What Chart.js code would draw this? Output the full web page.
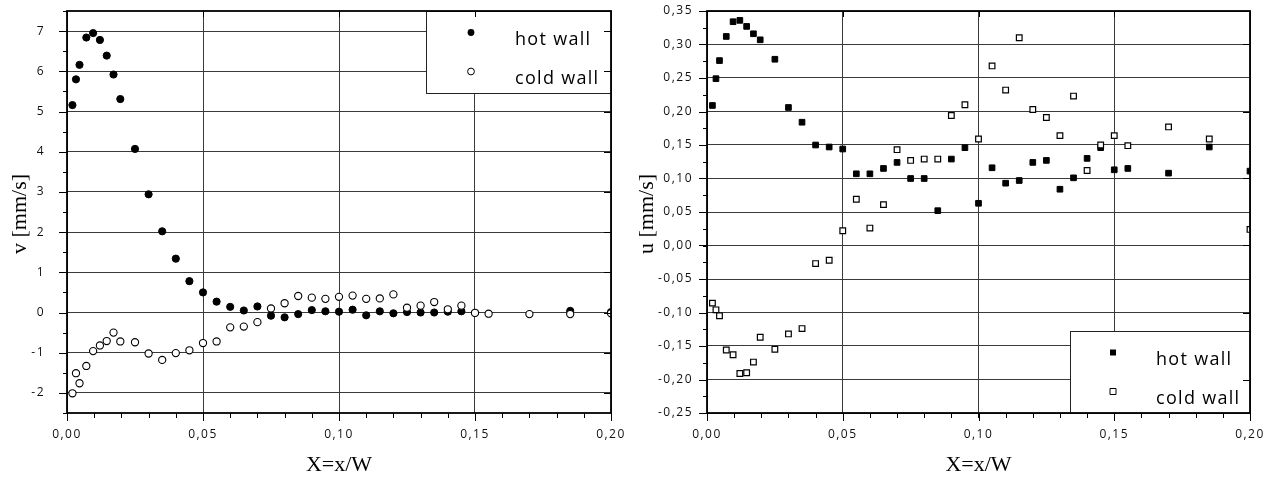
<!DOCTYPE html>
<html>
<head>
<meta charset="utf-8">
<script src="https://cdn.jsdelivr.net/npm/chart.js@4"></script>
<style>
body { margin: 0; background: #fff; width: 1273px; height: 482px; overflow: hidden; position: relative; }
.caixa { position: absolute; top: 0; height: 482px; }
</style>
</head>
<body>
<div class="caixa" style="left:0;width:630px"><canvas id="graficoV" width="630" height="482"></canvas></div>
<div class="caixa" style="left:630px;width:643px"><canvas id="graficoU" width="643" height="482"></canvas></div>
<script>
// posicoes X = x/W
var xPos = [0.002, 0.0033, 0.0046, 0.0071, 0.0096, 0.0121, 0.0146, 0.0171, 0.0196, 0.025,
            0.03, 0.035, 0.04, 0.045, 0.05, 0.055, 0.06, 0.065, 0.07, 0.075,
            0.08, 0.085, 0.09, 0.095, 0.1, 0.105, 0.11, 0.115, 0.12, 0.125,
            0.13, 0.135, 0.14, 0.145, 0.15, 0.155, 0.17, 0.185, 0.2];

// v [mm/s]
var vHot = [5.16, 5.80, 6.16, 6.84, 6.95, 6.78, 6.39, 5.92, 5.31, 4.07,
            2.94, 2.02, 1.34, 0.78, 0.50, 0.27, 0.14, 0.05, 0.15, -0.08,
            -0.12, -0.04, 0.06, 0.03, 0.02, 0.07, -0.07, 0.03, -0.02, 0.01,
            0.00, 0.00, 0.02, 0.03, -0.01, null, null, 0.04, 0.01];
var vCold = [-2.01, -1.51, -1.76, -1.33, -0.96, -0.82, -0.71, -0.50, -0.72, -0.74,
             -1.02, -1.18, -1.01, -0.94, -0.76, -0.72, -0.37, -0.35, -0.24, 0.10,
             0.23, 0.41, 0.37, 0.34, 0.39, 0.42, 0.34, 0.35, 0.45, 0.12,
             0.17, 0.26, 0.08, 0.17, -0.01, -0.03, -0.04, -0.04, -0.02];

// u [mm/s]
var uHot = [0.209, 0.249, 0.276, 0.312, 0.334, 0.336, 0.327, 0.316, 0.307, 0.278,
            0.206, 0.184, 0.150, 0.147, 0.144, 0.107, 0.107, 0.115, 0.124, 0.100,
            0.100, 0.052, 0.129, 0.146, 0.063, 0.116, 0.093, 0.097, 0.124, 0.127,
            0.084, 0.101, 0.130, 0.146, 0.113, 0.115, 0.108, 0.147, 0.111];
var uCold = [-0.086, -0.096, -0.105, -0.156, -0.163, -0.191, -0.190, -0.174, -0.137, -0.155,
             -0.132, -0.124, -0.027, -0.022, 0.022, 0.069, 0.026, 0.061, 0.143, 0.127,
             0.129, 0.129, 0.194, 0.210, 0.159, 0.268, 0.232, 0.310, 0.203, 0.191,
             0.164, 0.223, 0.112, 0.150, 0.164, 0.149, 0.177, 0.159, 0.024];

// marcas dos eixos
var xTicks = [0, 0.05, 0.1, 0.15, 0.2];
var vTicks = [-2, -1, 0, 1, 2, 3, 4, 5, 6, 7];
var uTicks = [-0.25, -0.2, -0.15, -0.1, -0.05, 0, 0.05, 0.1, 0.15, 0.2, 0.25, 0.3, 0.35];

var legendas = ['hot wall', 'cold wall'];

function pontos(ys) {
    var r = [];
    xPos.forEach(function (x, i) {
        if (ys[i] !== null) r.push({ x: x, y: ys[i] });
    });
    return r;
}

function virgula(v) { return v.toFixed(2).replace('.', ','); }

function fixarTicks(lista) {
    return function (s) { s.ticks = lista.map(function (v) { return { value: v }; }); };
}

Chart.defaults.font.family = "'Open Sans'";
Chart.defaults.font.size = 12;
Chart.defaults.color = '#111';

// moldura, marcas, legenda e titulos
var molduraPlugin = {
    id: 'moldura',
    beforeDraw: function (chart) {
        chart.ctx.letterSpacing = '1.5px';
    },
    afterDatasetsDraw: function (chart, args, o) {
        var ctx = chart.ctx, a = chart.chartArea;
        var lx = a.right - o.legW;
        var ly = o.legTopo ? a.top : a.bottom - o.legH;
        ctx.save();
        ctx.fillStyle = '#fff';
        ctx.fillRect(lx, ly, o.legW, o.legH);
        ctx.strokeStyle = '#222';
        ctx.lineWidth = 1;
        ctx.strokeRect(Math.round(lx) + 0.5, Math.round(ly) + 0.5, o.legW, o.legH);
        ctx.letterSpacing = '1.3px';
        ctx.font = "18px 'Open Sans'";
        ctx.textBaseline = 'alphabetic';
        [21.5, 60.5].forEach(function (dy, i) {
            var mx = lx + o.legMarca, my = ly + dy;
            ctx.beginPath();
            if (o.quadrado) ctx.rect(mx - 3, my - 3, 6, 6);
            else ctx.arc(mx, my, 3.4, 0, Math.PI * 2);
            if (i === 0) { ctx.fillStyle = '#000'; ctx.fill(); }
            else { ctx.fillStyle = '#fff'; ctx.fill(); ctx.strokeStyle = '#000'; ctx.stroke(); }
            ctx.fillStyle = '#000';
            ctx.fillText(legendas[i], lx + o.legTexto, my + 12);
        });
        ctx.restore();
    },
    afterDraw: function (chart, args, o) {
        var ctx = chart.ctx, a = chart.chartArea;
        var sx = chart.scales.x, sy = chart.scales.y;
        ctx.save();
        ctx.strokeStyle = '#000';
        ctx.lineWidth = 1;
        ctx.beginPath();
        sy.ticks.forEach(function (t, i) {
            var p = Math.round(sy.getPixelForValue(t.value)) + 0.5;
            ctx.moveTo(a.left - 8, p); ctx.lineTo(a.left, p);
            if ((i - o.dirInicio) % o.dirPasso === 0) { ctx.moveTo(a.right - 7, p); ctx.lineTo(a.right, p); }
        });
        for (var v = sy.min; v <= sy.max + 1e-9; v += o.menorY) {
            var p = Math.round(sy.getPixelForValue(v)) + 0.5;
            ctx.moveTo(a.left - 4, p); ctx.lineTo(a.left, p);
        }
        sx.ticks.forEach(function (t) {
            var p = Math.round(sx.getPixelForValue(t.value)) + 0.5;
            ctx.moveTo(p, a.bottom); ctx.lineTo(p, a.bottom + 8);
            ctx.moveTo(p, a.top); ctx.lineTo(p, a.top + 6);
        });
        for (var w = sx.min; w <= sx.max + 1e-9; w += 0.01) {
            var q = Math.round(sx.getPixelForValue(w)) + 0.5;
            ctx.moveTo(q, a.bottom); ctx.lineTo(q, a.bottom + 5);
        }
        ctx.stroke();
        ctx.lineWidth = 1.8;
        ctx.strokeRect(a.left, a.top, a.right - a.left, a.bottom - a.top);

        ctx.letterSpacing = '0px';
        ctx.fillStyle = '#000';
        ctx.font = "22px 'Liberation Serif'";
        ctx.textAlign = 'center';
        ctx.textBaseline = 'middle';
        ctx.fillText('X=x/W', (a.left + a.right) / 2, 465);
        ctx.translate(o.tituloX, 214);
        ctx.rotate(-Math.PI / 2);
        ctx.fillText(o.tituloY, 0, 0);
        ctx.restore();
    }
};

function opcoes(cfg) {
    return {
        responsive: false,
        animation: false,
        devicePixelRatio: 1,
        layout: { padding: { left: 0, right: cfg.padDir, top: 11, bottom: 0 } },
        scales: {
            x: {
                type: 'linear',
                min: 0,
                max: 0.2,
                afterBuildTicks: fixarTicks(xTicks),
                afterFit: function (s) { s.height = 69; s.paddingLeft = 0; s.paddingRight = 0; },
                border: { display: false },
                grid: { color: '#3a3a3a', lineWidth: 1, drawTicks: false },
                ticks: { padding: 14, callback: virgula, maxRotation: 0, autoSkip: false }
            },
            y: {
                min: cfg.yMin,
                max: cfg.yMax,
                afterBuildTicks: fixarTicks(cfg.yTicks),
                afterFit: function (s) { s.width = cfg.largY; s.paddingTop = 0; s.paddingBottom = 0; },
                border: { display: false },
                grid: { color: '#3a3a3a', lineWidth: 1, drawTicks: false },
                ticks: { padding: cfg.padY, callback: cfg.rotulo, autoSkip: false }
            }
        },
        plugins: {
            legend: { display: false },
            tooltip: { enabled: false },
            moldura: cfg.moldura
        }
    };
}

var ctxV = document.getElementById('graficoV').getContext('2d');
var ctxU = document.getElementById('graficoU').getContext('2d');

var graficoV = new Chart(ctxV, {
    type: 'scatter',
    data: {
        datasets: [{
            label: legendas[1],
            data: pontos(vCold),
            pointStyle: 'circle',
            pointRadius: 3.6,
            backgroundColor: '#fff',
            borderColor: '#000',
            borderWidth: 1.1,
            clip: 0
        }, {
            label: legendas[0],
            data: pontos(vHot),
            pointStyle: 'circle',
            pointRadius: 3.6,
            backgroundColor: '#000',
            borderColor: '#000',
            borderWidth: 1,
            clip: 0
        }]
    },
    options: opcoes({
        padDir: 19, yMin: -2.5, yMax: 7.5, yTicks: vTicks, largY: 67, padY: 22,
        rotulo: function (v) { return String(v); },
        moldura: { legW: 185, legH: 82, legTopo: true, legMarca: 45, legTexto: 89, quadrado: false,
                   dirInicio: 0, dirPasso: 1, menorY: 0.5, tituloX: 20, tituloY: 'v [mm/s]' }
    }),
    plugins: [molduraPlugin]
});

var graficoU = new Chart(ctxU, {
    type: 'scatter',
    data: {
        datasets: [{
            label: legendas[1],
            data: pontos(uCold),
            pointStyle: 'rect',
            pointRadius: 4,
            backgroundColor: '#fff',
            borderColor: '#000',
            borderWidth: 1.2,
            clip: 0
        }, {
            label: legendas[0],
            data: pontos(uHot),
            pointStyle: 'rect',
            pointRadius: 4,
            backgroundColor: '#000',
            borderColor: '#000',
            borderWidth: 1,
            clip: 0
        }]
    },
    options: opcoes({
        padDir: 23, yMin: -0.25, yMax: 0.35, yTicks: uTicks, largY: 77, padY: 14,
        rotulo: virgula,
        moldura: { legW: 180, legH: 82, legTopo: false, legMarca: 43, legTexto: 86, quadrado: true,
                   dirInicio: 1, dirPasso: 2, menorY: 0.025, tituloX: 17, tituloY: 'u [mm/s]' }
    }),
    plugins: [molduraPlugin]
});
</script>
</body>
</html>
